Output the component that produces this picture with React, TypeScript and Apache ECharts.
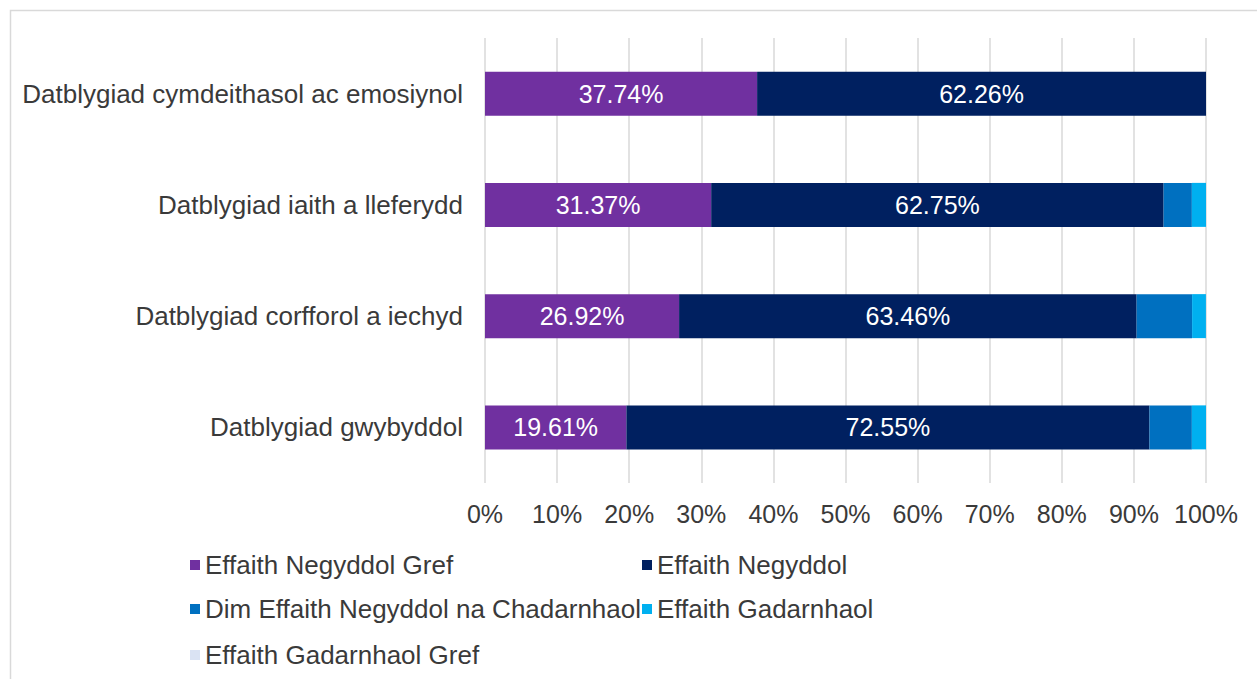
import React, { useEffect, useRef } from "react";
import * as echarts from "echarts";

const categories = [
  "Datblygiad cymdeithasol ac emosiynol",
  "Datblygiad iaith a lleferydd",
  "Datblygiad corfforol a iechyd",
  "Datblygiad gwybyddol",
];
const seriesNames = [
  "Effaith Negyddol Gref",
  "Effaith Negyddol",
  "Dim Effaith Negyddol na Chadarnhaol",
  "Effaith Gadarnhaol",
  "Effaith Gadarnhaol Gref",
];
const strongNegative = [37.74, 31.37, 26.92, 19.61];
const negative = [62.26, 62.75, 63.46, 72.55];
const neutral = [0, 3.92, 7.69, 5.88];
const positive = [0, 1.96, 1.92, 1.96];
const strongPositive = [0, 0, 0, 0];
const xTicks = [0, 10, 20, 30, 40, 50, 60, 70, 80, 90, 100];

const colors = ["#7030A0", "#002060", "#0070C0", "#00B0F0", "#DAE3F3"];
const font = "'Liberation Sans', Arial, sans-serif";
const textColor = "#3a3a3a";
const fs = 25;
const fsBig = 26;

export default function App() {
  const ref = useRef<HTMLDivElement>(null);
  useEffect(() => {
    if (!ref.current) return;
    const chart = echarts.init(ref.current, null, { renderer: "svg" });
    const values = [strongNegative, negative, neutral, positive, strongPositive];
    const legendPos = [
      { left: 190, top: 552 },
      { left: 642, top: 552 },
      { left: 190, top: 596 },
      { left: 642, top: 596 },
      { left: 190, top: 642 },
    ];
    chart.setOption({
      animation: false,
      backgroundColor: "#ffffff",
      textStyle: { fontFamily: font },
      grid: { left: 485, right: 51, top: 38, height: 445, containLabel: false },
      xAxis: {
        type: "value",
        min: 0,
        max: 100,
        interval: 10,
        axisLine: { show: false },
        axisTick: { show: false },
        splitLine: { show: true, lineStyle: { color: "#d9d9d9", width: 1.5 } },
        axisLabel: {
          formatter: (v: number) => (xTicks.includes(v) ? v + "%" : ""),
          fontSize: fs,
          color: textColor,
          fontFamily: font,
          margin: 18,
        },
      },
      yAxis: {
        type: "category",
        data: categories,
        inverse: true,
        axisLine: { show: false },
        axisTick: { show: false },
        axisLabel: { fontSize: fsBig, color: textColor, fontFamily: font, margin: 22 },
      },
      legend: legendPos.map((p, i) => ({
        data: [seriesNames[i]],
        left: p.left,
        top: p.top,
        icon: "rect",
        itemWidth: 10,
        itemHeight: 10,
        itemGap: 0,
        padding: 0,
        textStyle: { fontSize: fsBig, color: textColor, fontFamily: font, padding: [0, 0, 0, 0] },
      })),
      graphic: [
        {
          type: "rect",
          shape: { x: 10.5, y: 10.5, width: 1300, height: 700 },
          style: { fill: "none", stroke: "#d9d9d9", lineWidth: 1.5 },
          silent: true,
          z: -10,
        },
      ],
      series: seriesNames.map((name, i) => ({
        name,
        type: "bar",
        stack: "total",
        barWidth: 44,
        itemStyle: { color: colors[i] },
        data: values[i],
        label: {
          show: i < 2,
          position: "inside",
          color: "#ffffff",
          fontSize: fs,
          fontFamily: font,
          formatter: (p: any) => p.value.toFixed(2) + "%",
        },
      })),
    });
    return () => chart.dispose();
  }, []);
  return (
    <div
      ref={ref}
      style={{ position: "fixed", left: 0, top: 0, width: 1257, height: 679 }}
    />
  );
}
